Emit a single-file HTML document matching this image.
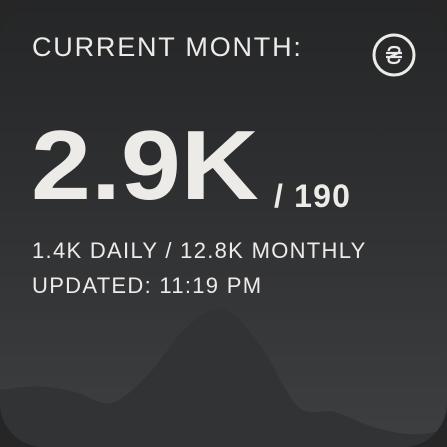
<!DOCTYPE html>
<html><head><meta charset="utf-8"><style>
html,body{margin:0;padding:0;background:#262626;}
#w{position:relative;width:447px;height:447px;border-radius:44px;overflow:hidden;background:linear-gradient(180deg,#252627 0%,#2f3031 45%,#3e3f41 100%);font-family:"Liberation Sans",sans-serif;color:#ecebe8;}
.t{position:absolute;white-space:nowrap;}
</style></head><body>
<div id="w">
<svg id="chart" width="447" height="447" style="position:absolute;left:0;top:0"></svg>
<div class="t" style="left:32px;top:32px;font-size:27px;letter-spacing:1.8px;font-weight:300">CURRENT MONTH:</div>
<svg width="48" height="48" style="position:absolute;left:370px;top:31px">
<circle cx="24" cy="24" r="20" fill="none" stroke="#ecebe8" stroke-width="3"/>
<path d="M18.5 20 Q19 16 24 16 Q29.5 16 29.5 19.5 Q29.5 22 24 24 Q18.5 26 18.5 28.5 Q18.5 32 24 32 Q29 32 29.5 28 M16 22 H32 M16 26 H32" fill="none" stroke="#ecebe8" stroke-width="2.2"/>
</svg>
<div class="t" style="left:31px;top:109px;font-size:98px;font-weight:bold;transform:scaleX(1.1);transform-origin:0 0">2.9K</div>
<div class="t" style="left:274px;top:178px;font-size:32px;font-weight:bold;letter-spacing:1.2px">/ 190</div>
<div class="t" style="left:32px;top:238px;font-size:22px;font-weight:300;letter-spacing:1.3px">1.4K DAILY / 12.8K MONTHLY</div>
<div class="t" style="left:32px;top:273px;font-size:22px;font-weight:300;letter-spacing:1.3px">UPDATED: 11:19 PM</div>
</div>
<script>
const days=[0,1,2,3,4,5,6,7,8,9,10,11,12];
const values=[62,66,60,48,80,130,150,110,44,38,22,14,18];
const chartW=447,chartH=447,chartTop=300,chartBottom=447,maxV=160;
const xs=d=>d/(days.length-1)*chartW;
const ys=v=>chartBottom-(v/maxV)*(chartBottom-chartTop);
const pts=days.map((d,i)=>[xs(d),ys(values[i])]);
let p="M0,"+chartH+" L"+pts[0][0]+","+pts[0][1];
for(let i=0;i<pts.length-1;i++){
 const p0=pts[Math.max(0,i-1)],p1=pts[i],p2=pts[i+1],p3=pts[Math.min(pts.length-1,i+2)];
 const c1=[p1[0]+(p2[0]-p0[0])/6,p1[1]+(p2[1]-p0[1])/6],c2=[p2[0]-(p3[0]-p1[0])/6,p2[1]-(p3[1]-p1[1])/6];
 p+=" C"+c1+" "+c2+" "+p2;
}
p+=" L"+chartW+","+chartH+" Z";
const path=document.createElementNS("http://www.w3.org/2000/svg","path");
path.setAttribute("d",p);path.setAttribute("fill","#313335");


document.getElementById("chart").appendChild(path);
</script>
</body></html>
